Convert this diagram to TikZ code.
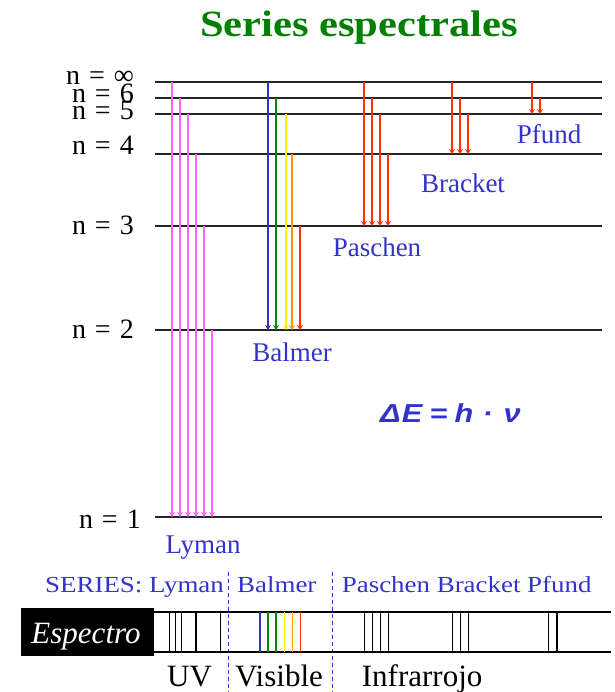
\documentclass[tikz,border=0pt]{standalone}
\usepackage{fontspec}
\setmainfont{Liberation Serif}
\newfontfamily\sansf{Liberation Sans}
\usetikzlibrary{arrows.meta}
\definecolor{lblue}{RGB}{51,51,204}
\definecolor{lmag}{RGB}{255,102,255}
\definecolor{lgreen}{RGB}{0,136,0}
\definecolor{lyellow}{RGB}{255,240,0}
\definecolor{lorange}{RGB}{255,153,0}
\definecolor{lred}{RGB}{255,51,0}
\definecolor{tgreen}{RGB}{0,128,0}
\begin{document}
\begin{tikzpicture}[x=1pt,y=-1pt,
  level/.style={line width=2.2pt, black!85},
  tr/.style={line width=1.5pt, -{Stealth[length=5pt,width=6pt]}},
  nlab/.style={anchor=base east, inner sep=0pt, font=\fontsize{28}{28}\selectfont},
  slab/.style={anchor=base, inner sep=0pt, text=lblue, font=\fontsize{27}{27}\selectfont},
  blab/.style={anchor=base west, inner sep=0pt, text=lblue, font=\fontsize{23}{23}\selectfont},
  klab/.style={anchor=base west, inner sep=0pt, text=black, font=\fontsize{31}{31}\selectfont},
  band/.style={line width=1.5pt, black},
  sline/.style={line width=1.5pt},
  dashline/.style={lblue, line width=1.2pt, dash pattern=on 4pt off 3pt}]
\fill[white] (0,0) rectangle (614,692);
\useasboundingbox (0,0) rectangle (614,692);

% title
\node[anchor=base, inner sep=0pt, text=tgreen, font=\fontsize{37}{37}\selectfont\bfseries] (title) at (359,37) {\scalebox{1.15}[1]{Series espectrales}};

% energy levels
\foreach \y in {82,98,114,154,226,330,517}
  \draw[level] (155,\y) -- (602,\y);

% level labels
\node[nlab] (linf) at (134,85) {n\hspace{9pt}=\hspace{9pt}∞};
\node[nlab] (l6) at (134,103) {n\hspace{9pt}=\hspace{9pt}6};
\node[nlab] (l5) at (134,120) {n\hspace{9pt}=\hspace{9pt}5};
\node[nlab] (l4) at (134,155) {n\hspace{9pt}=\hspace{9pt}4};
\node[nlab] (l3) at (134,235) {n\hspace{9pt}=\hspace{9pt}3};
\node[nlab] (l2) at (134,338) {n\hspace{9pt}=\hspace{9pt}2};
\node[nlab] (l1) at (141,528) {n\hspace{9pt}=\hspace{9pt}1};

% Lyman
\foreach \x/\y in {172/82,180/98,188/114,196/154,204/226,212/330}
  \draw[tr,lmag] (\x,\y) -- (\x,517);
% Balmer
\draw[tr,lblue] (268,82) -- (268,330);
\draw[tr,lgreen] (276,98) -- (276,330);
\draw[tr,lyellow] (286,114) -- (286,330);
\draw[tr,lorange] (292,154) -- (292,330);
\draw[tr,lred] (300,226) -- (300,330);
% Paschen
\foreach \x/\y in {364/82,372/98,380/114,388/154}
  \draw[tr,lred] (\x,\y) -- (\x,226);
% Bracket
\foreach \x/\y in {452/82,460/98,468/114}
  \draw[tr,lred] (\x,\y) -- (\x,154);
% Pfund
\foreach \x/\y in {532/82,540/98}
  \draw[tr,lred] (\x,\y) -- (\x,114);

% series labels
\node[slab] (lyman) at (203,553) {Lyman};
\node[slab] (balmer) at (292,361) {Balmer};
\node[slab] (paschen) at (377,257) {Paschen};
\node[slab] (bracket) at (463,193) {Bracket};
\node[slab] (pfund) at (549,144) {Pfund};

% formula
\node[anchor=base west, inner sep=0pt, text=lblue, font=\sansf\bfseries\itshape\fontsize{26}{26}\selectfont] (formula) at (380,422)
  {\scalebox{1.18}[1]{Δ\kern1pt E\hspace{6pt}=\hspace{6pt}h\hspace{8pt}·\hspace{9pt}ν}};

% bottom part
\draw[dashline] (228.3,572) -- (228.3,692);
\draw[dashline] (332.3,572) -- (332.3,692);
\node[blab] (sl) at (45,592) {\scalebox{1.17}[1]{SERIES: Lyman}};
\node[blab] (sb) at (237,592) {\scalebox{1.17}[1]{Balmer}};
\node[blab] (sp) at (341.7,592) {\scalebox{1.17}[1]{Paschen Bracket Pfund}};

\fill[black] (21,608) rectangle (154,656);
\node[anchor=base, inner sep=0pt, text=white, font=\fontsize{31}{31}\selectfont\itshape] (esp) at (86,643) {Espectro};

\draw[band] (154,612) -- (611,612);
\draw[band] (154,652) -- (611,652);
\foreach \x in {169.3,175.7,181.7,196,220.7,364.3,372.7,380.3,388.3,452.7,460.3,468.3,548.7,557}
  \draw[sline,black] (\x,612) -- (\x,652);
\draw[sline,lblue] (260,612) -- (260,652);
\draw[sline,lgreen] (268,612) -- (268,652);
\draw[sline,lgreen] (276,612) -- (276,652);
\draw[sline,lyellow] (284.3,612) -- (284.3,652);
\draw[sline,lorange] (292.3,612) -- (292.3,652);
\draw[sline,lred] (300.3,612) -- (300.3,652);

\node[klab] (uv) at (167,686) {UV};
\node[klab] (vis) at (235,686) {Visible};
\node[klab] (ir) at (361.7,686) {Infrarrojo};
\end{tikzpicture}
\end{document}
